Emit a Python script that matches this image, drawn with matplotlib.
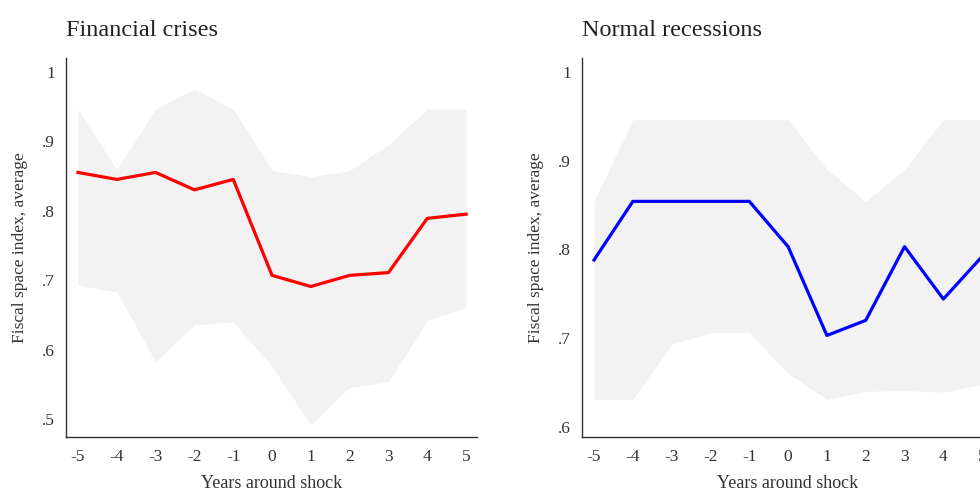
import matplotlib.pyplot as plt

years = [-5, -4, -3, -2, -1, 0, 1, 2, 3, 4, 5]

# Financial crises
fin_mean = [0.855, 0.845, 0.855, 0.830, 0.845, 0.707, 0.691, 0.707, 0.711, 0.789, 0.795]
fin_upper = [0.946, 0.859, 0.946, 0.975, 0.946, 0.858, 0.849, 0.858, 0.895, 0.946, 0.946]
fin_lower = [0.693, 0.683, 0.583, 0.636, 0.640, 0.576, 0.492, 0.546, 0.554, 0.642, 0.661]

# Normal recessions
rec_mean = [0.788, 0.854, 0.854, 0.854, 0.854, 0.803, 0.703, 0.720, 0.803, 0.744, 0.792]
rec_upper = [0.854, 0.946, 0.946, 0.946, 0.946, 0.946, 0.890, 0.854, 0.890, 0.946, 0.946]
rec_lower = [0.631, 0.631, 0.693, 0.706, 0.706, 0.660, 0.631, 0.640, 0.641, 0.639, 0.648]

fin_yticks = [0.5, 0.6, 0.7, 0.8, 0.9, 1.0]
fin_ylabels = [".5", ".6", ".7", ".8", ".9", "1"]
rec_yticks = [0.6, 0.7, 0.8, 0.9, 1.0]
rec_ylabels = [".6", ".7", ".8", ".9", "1"]

plt.rcParams["font.family"] = ["Liberation Serif", "DejaVu Serif"]


def panel(ax, title, mean, lower, upper, color, yticks, ylabels, ylim):
    ax.fill_between(years, lower, upper, color="#f2f2f2", linewidth=0)
    ax.plot(years, mean, color=color, linewidth=2.3)
    ax.set_xlim(-5.31, 5.28)
    ax.set_ylim(*ylim)
    ax.set_xticks(years)
    ax.set_xticklabels([str(y) for y in years])
    ax.set_yticks(yticks)
    ax.set_yticklabels(ylabels)
    ax.tick_params(length=0, labelsize=12.5, colors="#333333", pad=8)
    ax.tick_params(axis="x", pad=9)
    for s in ["top", "right"]:
        ax.spines[s].set_visible(False)
    for s in ["left", "bottom"]:
        ax.spines[s].set_color("#333333")
        ax.spines[s].set_linewidth(1.0)
    ax.set_xlabel("Years around shock", fontsize=13, color="#333333", labelpad=7)
    ax.set_ylabel("Fiscal space index, average", fontsize=12.5, color="#333333", labelpad=10)
    ax.set_title(title, loc="left", fontsize=17.5, pad=16, color="#222222")


fig = plt.figure(figsize=(9.8, 4.9), dpi=100)
ax1 = fig.add_axes([0.0673, 0.1088, 0.4194, 0.772])
ax2 = fig.add_axes([0.5939, 0.1088, 0.4194, 0.772])

panel(ax1, "Financial crises", fin_mean, fin_lower, fin_upper, "red",
      fin_yticks, fin_ylabels, (0.475, 1.019))
panel(ax2, "Normal recessions", rec_mean, rec_lower, rec_upper, "blue",
      rec_yticks, rec_ylabels, (0.589, 1.015))

fig.savefig("out.png", dpi=100)
